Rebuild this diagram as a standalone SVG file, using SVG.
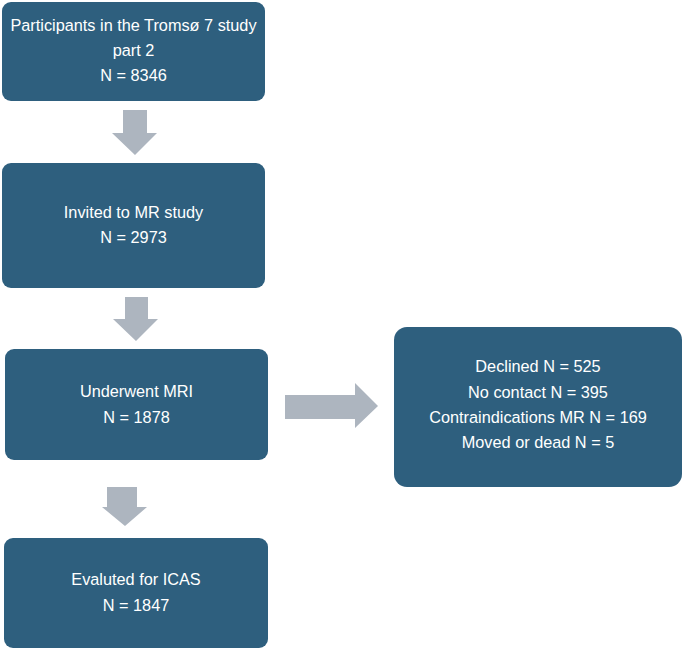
<svg xmlns="http://www.w3.org/2000/svg" width="685" height="651" viewBox="0 0 685 651">
<style>
.box{fill:#2e5f7e;}
.arr{fill:#adb5bf;}
text{font-family:"Liberation Sans",Arial,sans-serif;font-size:16.3px;fill:#ffffff;text-anchor:middle;}
</style>
<rect width="685" height="651" fill="#ffffff"/>
<g id="connectors">
<polygon class="arr" points="123,110 147,110 147,133 157,133 135,155 112,133 123,133"/>
<polygon class="arr" points="125,297 148,297 148,319 158,319 136,341 113,319 125,319"/>
<polygon class="arr" points="285,395 355,395 355,383 378,406 355,428 355,419 285,419"/>
<polygon class="arr" points="107,487 137,487 137,507 147,507 125,526 102,507 107,507"/>
</g>
<g id="node1">
<rect class="box" x="2" y="2" width="263" height="99" rx="9"/>
<text x="133.5" y="31">Participants in the Tromsø 7 study</text>
<text x="133.5" y="56">part 2</text>
<text x="133.5" y="81">N = 8346</text>
</g>
<g id="node2">
<rect class="box" x="2" y="163" width="263" height="125" rx="9"/>
<text x="133.5" y="218">Invited to MR study</text>
<text x="133.5" y="243">N = 2973</text>
</g>
<g id="node3">
<rect class="box" x="5" y="349" width="263" height="111" rx="9"/>
<text x="136.5" y="397">Underwent MRI</text>
<text x="136.5" y="423">N = 1878</text>
</g>
<g id="node4">
<rect class="box" x="394" y="327" width="288" height="160" rx="13"/>
<text x="538" y="372">Declined N = 525</text>
<text x="538" y="398">No contact N = 395</text>
<text x="538" y="423">Contraindications MR N = 169</text>
<text x="538" y="448">Moved or dead N = 5</text>
</g>
<g id="node5">
<rect class="box" x="4" y="538" width="264" height="110" rx="9"/>
<text x="136" y="585">Evaluted for ICAS</text>
<text x="136" y="611">N = 1847</text>
</g>
</svg>
